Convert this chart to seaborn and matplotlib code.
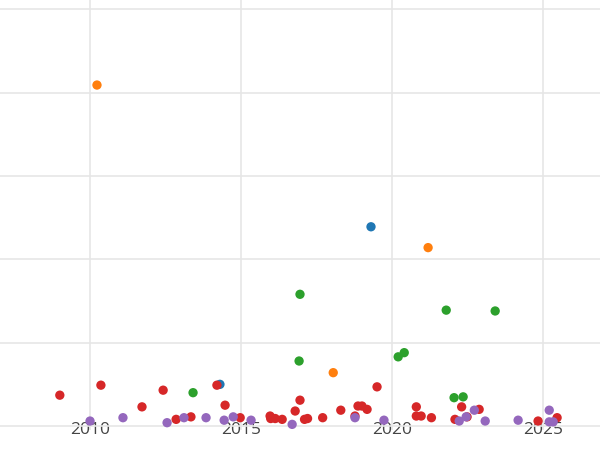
import matplotlib
matplotlib.use("Agg")
import matplotlib.pyplot as plt
import seaborn as sns
import pandas as pd

orange_x=[2010.23,2021.19,2018.05]; orange_y=[4.09,2.14,0.64]
blue_x=[2019.3,2014.3]; blue_y=[2.39,0.50]
green_x=[2016.95,2021.79,2023.41,2016.92,2020.2,2020.4,2013.41,2022.05,2022.35]
green_y=[1.58,1.39,1.38,0.78,0.83,0.88,0.40,0.34,0.35]
red_x=[2009.0,2010.36,2011.72,2012.42,2012.85,2013.34,2014.2,2014.47,2014.97,2015.96,2015.98,2016.13,2016.36,2016.79,2016.95,2017.1,2017.2,2017.7,2018.3,2018.77,2018.87,2019.0,2019.17,2019.5,2020.8,2020.8,2020.96,2021.3,2022.08,2022.3,2022.48,2022.88,2024.83,2025.46]
red_y=[0.37,0.49,0.23,0.43,0.08,0.11,0.49,0.25,0.10,0.12,0.09,0.09,0.08,0.18,0.31,0.08,0.09,0.10,0.19,0.12,0.24,0.24,0.20,0.47,0.23,0.12,0.12,0.10,0.08,0.23,0.11,0.20,0.06,0.10]
purple_x=[2010.0,2011.09,2012.55,2013.11,2013.84,2014.44,2014.74,2015.33,2016.69,2018.77,2019.73,2022.22,2022.45,2022.72,2023.08,2024.17,2025.2,2025.2,2025.33]
purple_y=[0.06,0.10,0.04,0.10,0.10,0.07,0.11,0.07,0.02,0.10,0.07,0.06,0.11,0.19,0.06,0.07,0.19,0.05,0.05]

groups=[("a",blue_x,blue_y,"#1f77b4"),("b",orange_x,orange_y,"#ff7f0e"),
        ("c",green_x,green_y,"#2ca02c"),("d",red_x,red_y,"#d62728"),("e",purple_x,purple_y,"#9467bd")]
rows=[]
for g,xs,ys,c in groups:
    for x,y in zip(xs,ys): rows.append((g,x,y))
df=pd.DataFrame(rows,columns=["g","x","y"])
pal={g:c for g,_,_,c in groups}

sns.set_theme(style="whitegrid")
plt.rcParams['font.family']=['Open Sans','DejaVu Sans']
fig=plt.figure(figsize=(6,4.5),dpi=100)
ax=fig.add_axes([0,0.044,1,0.956])
sns.scatterplot(data=df,x="x",y="y",hue="g",palette=pal,s=45,edgecolor="none",legend=False,ax=ax,zorder=3)
ax.set_xlim(2007.02,2026.88)
ax.set_ylim(-0.05,5.11)
ax.set_xticks([2010,2015,2020,2025])
ax.set_yticks([0,1,2,3,4,5])
ax.set_yticklabels([])
ax.tick_params(axis='x',labelsize=12.5,colors='#444444',pad=-6,length=0)
ax.tick_params(axis='y',length=0)
ax.grid(color='#e6e6e6',linewidth=1.2)
ax.set_xlabel(""); ax.set_ylabel("")
for s in ax.spines.values(): s.set_visible(False)
fig.savefig("out.png",dpi=100)
